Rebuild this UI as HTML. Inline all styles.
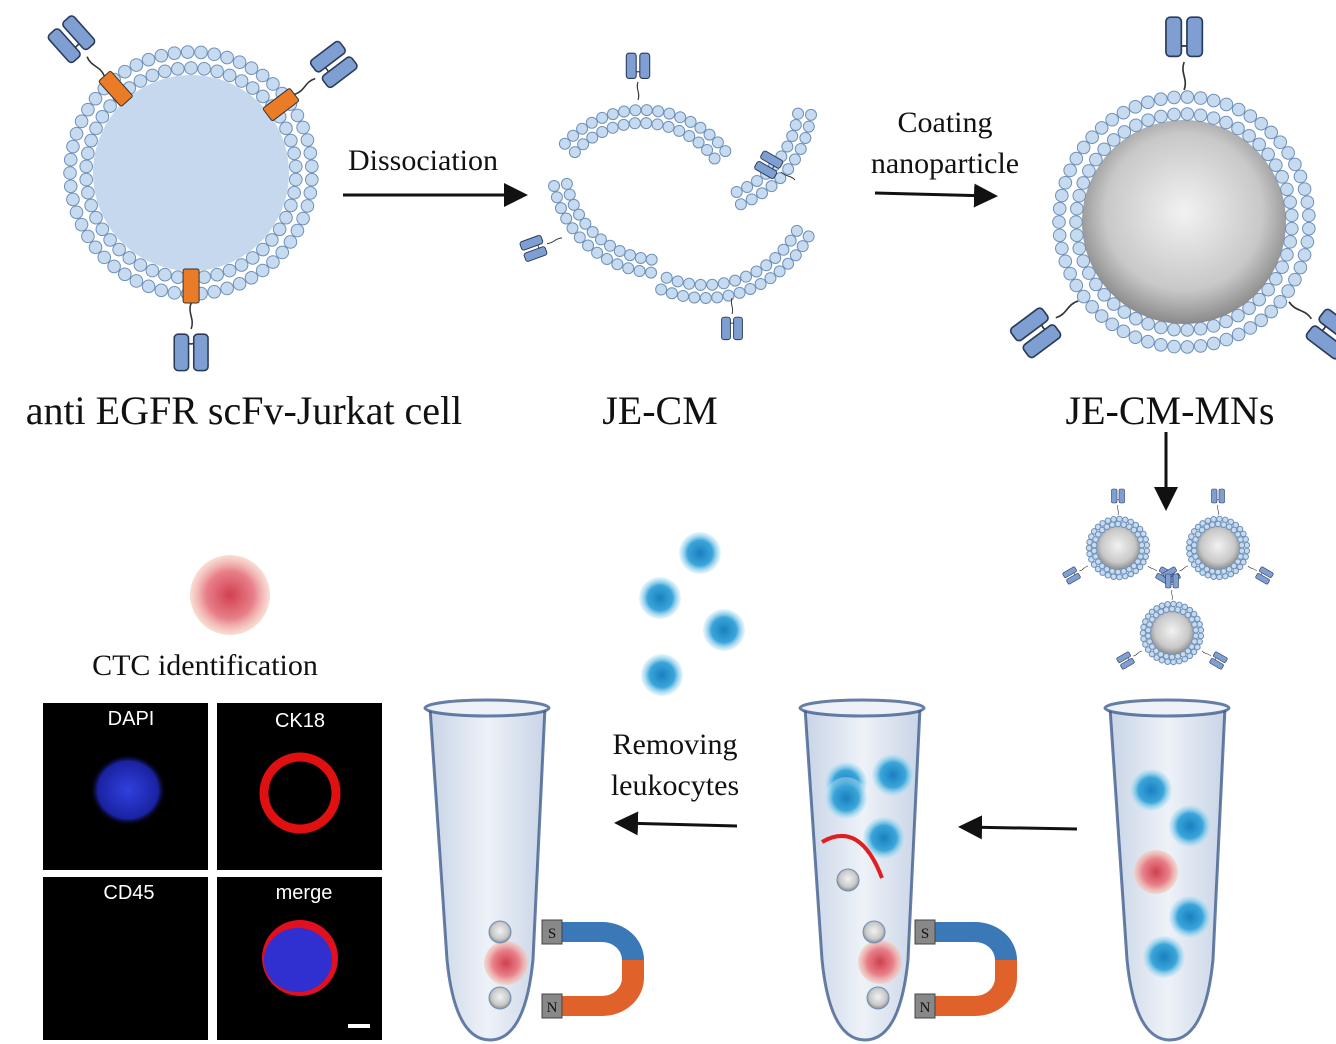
<!DOCTYPE html>
<html><head><meta charset="utf-8"><style>
body{margin:0;background:#fff}
svg{display:block}
text{font-family:"Liberation Serif",serif;fill:#111}
</style></head><body>
<svg id="s" width="1336" height="1044" viewBox="0 0 1336 1044">
<defs>
<radialGradient id="np" cx="50%" cy="45%" r="55%"><stop offset="0" stop-color="#f2f2f2"/><stop offset="0.7" stop-color="#c8c8c8"/><stop offset="1" stop-color="#8a8a8a"/></radialGradient>
<radialGradient id="leu" cx="50%" cy="50%" r="50%"><stop offset="0" stop-color="#1a7fc0"/><stop offset="0.6" stop-color="#3aa6da"/><stop offset="1" stop-color="#bfe6f6" stop-opacity="0.4"/></radialGradient>
<radialGradient id="ctc" cx="50%" cy="50%" r="50%"><stop offset="0" stop-color="#d04050"/><stop offset="0.6" stop-color="#e8808a"/><stop offset="1" stop-color="#f5c8b8" stop-opacity="0.6"/></radialGradient>
<radialGradient id="dapi" cx="50%" cy="50%" r="50%"><stop offset="0" stop-color="#3040e0"/><stop offset="0.8" stop-color="#1a22a0"/><stop offset="1" stop-color="#000" stop-opacity="0"/></radialGradient>
<linearGradient id="tube" x1="0" x2="1"><stop offset="0" stop-color="#c8d4e6"/><stop offset="0.5" stop-color="#eef2f8"/><stop offset="1" stop-color="#c8d4e6"/></linearGradient>
<marker id="ah" markerWidth="8" markerHeight="8" refX="6" refY="4" orient="auto"><path d="M0,0 L8,4 L0,8 Z" fill="#111"/></marker>
</defs>
<g id="cell">
<circle cx="191" cy="173" r="98" fill="#c5d8ee"/>
</g>
<g id="mn">
<circle cx="1184" cy="222" r="102" fill="url(#np)"/>
</g>
<g id="frag"></g>

<g>
<line x1="343" y1="195" x2="522" y2="195" stroke="#111" stroke-width="3" marker-end="url(#ah)"/>
<text x="348" y="170" font-size="30">Dissociation</text></g>
<g>
<line x1="875" y1="193" x2="992" y2="196" stroke="#111" stroke-width="3" marker-end="url(#ah)"/>
<text x="945" y="132" font-size="30" text-anchor="middle">Coating</text>
<text x="945" y="173" font-size="30" text-anchor="middle">nanoparticle</text></g>
<text x="244" y="424" font-size="40" text-anchor="middle">anti EGFR scFv-Jurkat cell</text>
<text x="660" y="424" font-size="40" text-anchor="middle">JE-CM</text>
<text x="1170" y="424" font-size="40" text-anchor="middle">JE-CM-MNs</text>
<line x1="1166" y1="432" x2="1166" y2="505" stroke="#111" stroke-width="3" marker-end="url(#ah)"/>
<g id="smallmn"></g>

<g id="tubes"></g>
<g id="cells2"></g>

<line x1="1077" y1="829" x2="964" y2="827" stroke="#111" stroke-width="3" marker-end="url(#ah)"/>
<line x1="737" y1="826" x2="620" y2="823" stroke="#111" stroke-width="3" marker-end="url(#ah)"/>
<text x="675" y="754" font-size="30" text-anchor="middle">Removing</text>
<text x="675" y="795" font-size="30" text-anchor="middle">leukocytes</text>

<circle cx="230" cy="595" r="40" fill="url(#ctc)"/>
<text x="205" y="675" font-size="30" text-anchor="middle">CTC identification</text>

<g font-family="Liberation Sans">
<rect x="43" y="703" width="165" height="167" fill="#000"/>
<rect x="217" y="703" width="165" height="167" fill="#000"/>
<rect x="43" y="877" width="165" height="163" fill="#000"/>
<rect x="217" y="877" width="165" height="163" fill="#000"/>
<ellipse cx="128" cy="790" rx="38" ry="36" fill="url(#dapi)"/>
<circle cx="300" cy="793" r="36" fill="none" stroke="#e01010" stroke-width="9"/>
<circle cx="300" cy="958" r="38" fill="#e01020"/>
<ellipse cx="298" cy="960" rx="34" ry="32" fill="#3030d0"/>
<rect x="348" y="1024" width="22" height="4" fill="#fff"/>
<text x="131" y="725" font-size="20" fill="#fff" text-anchor="middle" style="fill:#fff;font-family:'Liberation Sans'">DAPI</text>
<text x="300" y="727" font-size="20" text-anchor="middle" style="fill:#fff;font-family:'Liberation Sans'">CK18</text>
<text x="129" y="899" font-size="20" text-anchor="middle" style="fill:#fff;font-family:'Liberation Sans'">CD45</text>
<text x="304" y="899" font-size="20" text-anchor="middle" style="fill:#fff;font-family:'Liberation Sans'">merge</text>
</g>
</svg>
<script>
const NS="http://www.w3.org/2000/svg";
function mk(parent,tag,attrs){const e=document.createElementNS(NS,tag);for(const k in attrs)e.setAttribute(k,attrs[k]);parent.appendChild(e);return e;}
function beads(g,cx,cy,R,r,a0,a1,fill){
  const n=Math.max(3,Math.round(R*Math.abs(a1-a0)/(2*r*1.05)));
  for(let i=0;i<n;i++){const a=a0+(a1-a0)*(i+0.5)/n;
    const c=mk(g,'circle',{cx:cx+R*Math.cos(a),cy:cy+R*Math.sin(a),r:r,fill:fill||'#c6dbf0',stroke:'#6f90b8','stroke-width':1});
    
    }
}
function antibody(g,x,y,ang,s){
  const t=mk(g,'g',{transform:`translate(${x},${y}) rotate(${ang}) scale(${s})`});
  
  
  mk(t,'path',{d:'M0,0 C3,-8 -3,-12 0,-20 M-6,-24 C-6,-34 6,-34 6,-24',fill:'none',stroke:'#333','stroke-width':1.2});
  mk(t,'rect',{x:-13,y:-52,width:11,height:28,rx:3,fill:'#7f9fd3',stroke:'#2a3a5a','stroke-width':1.2});
  mk(t,'rect',{x:2,y:-52,width:11,height:28,rx:3,fill:'#7f9fd3',stroke:'#2a3a5a','stroke-width':1.2});
}
const cell=document.getElementById('cell');
beads(cell,191,173,121,6.3,0,2*Math.PI);
beads(cell,191,173,105,6.3,0,2*Math.PI);
[-2.3,-0.65,1.57].forEach(a=>{
  const x=191+113*Math.cos(a),y=173+113*Math.sin(a);
  const r=mk(cell,'rect',{x:x-8,y:y-17,width:16,height:34,rx:2,fill:'#ea7c28',stroke:'#333',transform:`rotate(${a*180/Math.PI+90} ${x} ${y})`});
  
  
  antibody(cell,191+130*Math.cos(a),173+130*Math.sin(a),a*180/Math.PI+90,1.3);
});
const mn=document.getElementById('mn');
beads(mn,1184,222,125,6.3,0,2*Math.PI);
beads(mn,1184,222,108,6.3,0,2*Math.PI);
[-1.57,2.5,0.65].forEach(a=>antibody(mn,1184+132*Math.cos(a),222+132*Math.sin(a),a*180/Math.PI+90,1.4));
const fr=document.getElementById('frag');
[[642,215,105,-2.45,-0.6],[700,100,112,0.08,1.25],[660,165,108,1.6,3.0],[705,180,118,0.45,2.0]].forEach(([cx,cy,R,a0,a1])=>{
  beads(fr,cx,cy,R,5.5,a0,a1);beads(fr,cx,cy,R-13,5.5,a0,a1);
});
antibody(fr,638,100,0,0.9);antibody(fr,795,180,-60,0.8);antibody(fr,562,238,-110,0.8);antibody(fr,732,298,180,0.8);
const sm=document.getElementById('smallmn');
[[1118,548],[1218,548],[1172,633]].forEach(([x,y])=>{
  mk(sm,'circle',{cx:x,cy:y,r:22,fill:'url(#np)'});
  beads(sm,x,y,29,2.8,0,2*Math.PI);beads(sm,x,y,24,2.8,0,2*Math.PI);
  antibody(sm,x,y-33,0,0.5);antibody(sm,x-30,y+18,-120,0.5);antibody(sm,x+30,y+18,120,0.5);
});
const tb=document.getElementById('tubes');
[425,800,1105].forEach(x=>{
  const p=mk(tb,'path',{d:`M${x+5},708 L${x+120},708 L${x+108},960 Q${x+100},1040 ${x+65},1040 Q${x+30},1040 ${x+22},960 Z`,fill:'url(#tube)',stroke:'#2a4a80','stroke-width':3,'stroke-opacity':0.7});
  
  
  mk(tb,'ellipse',{cx:x+62,cy:708,rx:62,ry:8,fill:'#eef2f8',stroke:'#2a4a80','stroke-width':3,'stroke-opacity':0.7});
});
const leukocytes=[[700,553],[660,598],[724,630],[662,675],[846,783],[893,775],[846,798],[884,838],[1151,790],[1190,826],[1190,917],[1164,957]];
const c2=document.getElementById('cells2');
leukocytes.forEach(([x,y])=>{const c=mk(c2,'circle',{cx:x,cy:y,r:21,fill:'url(#leu)'});
  
  });
[[506,963],[880,962],[1156,872]].forEach(([x,y])=>{const c=mk(c2,'circle',{cx:x,cy:y,r:22,fill:'url(#ctc)'});
  
  });
[[500,932],[500,998],[874,932],[878,998],[848,880]].forEach(([x,y])=>{const c=mk(c2,'circle',{cx:x,cy:y,r:11,fill:'url(#np)',stroke:'#7090b8'});
  
  });
mk(c2,'path',{d:'M822,842 Q860,820 882,878',fill:'none',stroke:'#e02020','stroke-width':4});
[542,915].forEach(x=>{
  const g=mk(c2,'g',{});
  
  
  mk(g,'path',{d:`M${x+20},922 L${x+60},922 A42,38 0 0 1 ${x+102},960 L${x+80},960 A20,18 0 0 0 ${x+60},942 L${x+20},942 Z`,fill:'#3a78b8'});
  mk(g,'path',{d:`M${x+20},1016 L${x+60},1016 A42,38 0 0 0 ${x+102},978 L${x+80},978 A20,18 0 0 1 ${x+60},996 L${x+20},996 Z`,fill:'#e0622a'});
  mk(g,'rect',{x:x+80,y:960,width:22,height:18,fill:'#e0622a'});
  mk(g,'rect',{x:x,y:920,width:20,height:24,fill:'#888',stroke:'#444'});
  mk(g,'rect',{x:x,y:994,width:20,height:24,fill:'#888',stroke:'#444'});
  const s=mk(g,'text',{x:x+10,y:938,'font-size':15,'text-anchor':'middle'});s.textContent='S';
  const n=mk(g,'text',{x:x+10,y:1012,'font-size':15,'text-anchor':'middle'});n.textContent='N';
});
</script>
</body></html>
